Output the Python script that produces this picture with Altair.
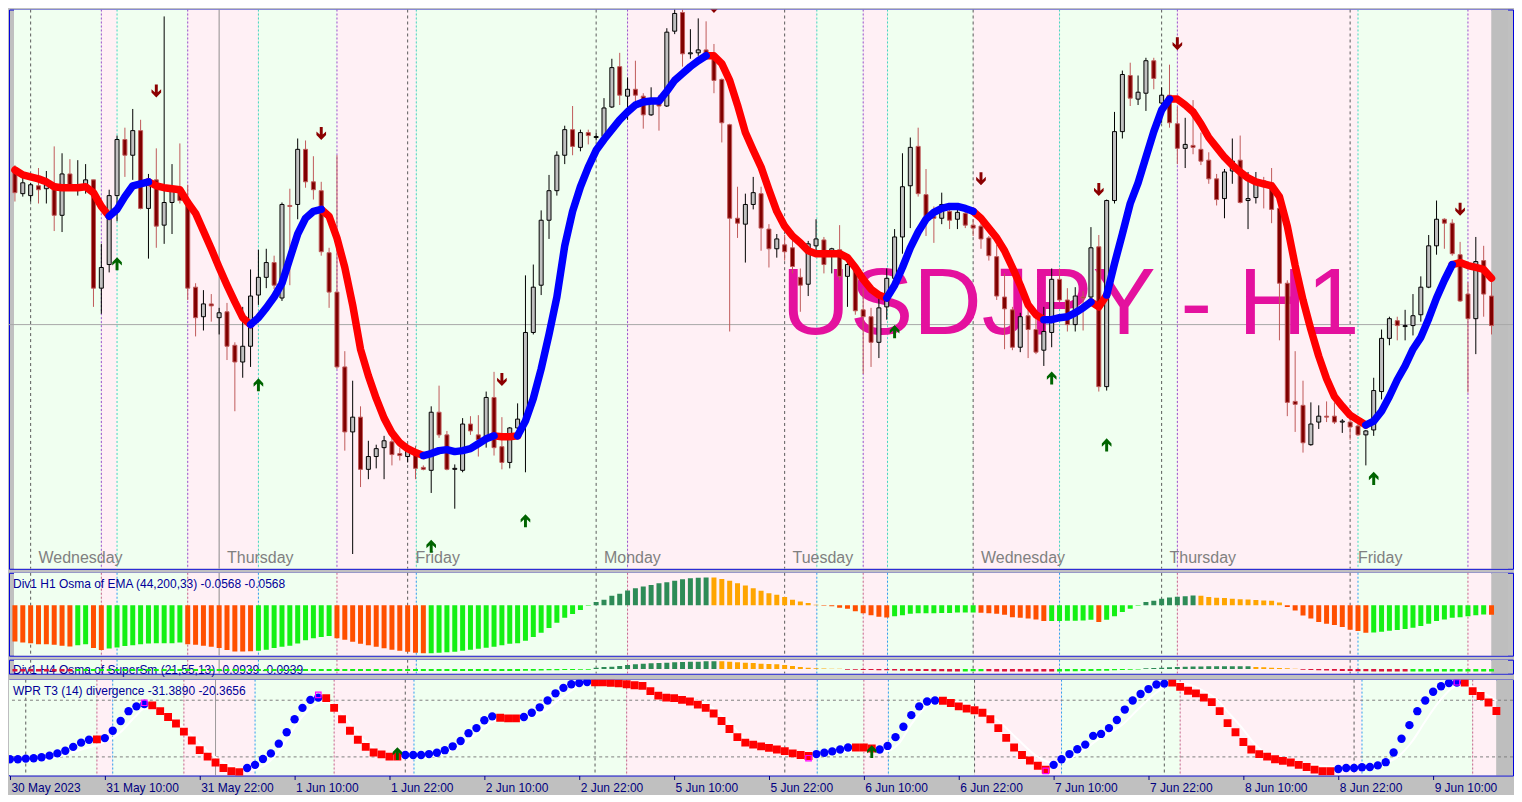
import altair as alt
import pandas as pd

# ---------------- data ----------------
open_ = [140.185, 140.065, 140.055, 140.105, 140.090, 140.115, 139.955, 140.165, 140.100, 140.110,
         140.135, 139.585, 139.705, 140.055, 140.340, 140.260, 140.385, 139.990, 140.135, 139.905,
         140.020, 140.085, 140.035, 139.590, 139.440, 139.505, 139.435, 139.465, 139.295, 139.210,
         139.290, 139.550, 139.640, 139.715, 139.535, 140.005, 140.010, 140.290, 140.125, 140.080,
         139.765, 139.565, 139.185, 138.855, 138.930, 138.665, 138.730, 138.775, 138.805, 138.745,
         138.730, 138.740, 138.675, 138.660, 138.955, 138.840, 138.665, 138.660, 138.895, 138.840,
         138.815, 139.030, 138.780, 138.700, 138.875, 138.925, 139.360, 139.600, 139.930, 140.080,
         140.260, 140.390, 140.300, 140.375, 140.350, 140.355, 140.505, 140.710, 140.560, 140.595,
         140.560, 140.465, 140.535, 140.510, 140.890, 140.985, 140.775, 140.780, 140.795, 140.765,
         140.645, 140.415, 139.940, 139.910, 140.010, 140.065, 139.885, 139.785, 139.805, 139.790,
         139.640, 139.605, 139.800, 139.830, 139.765, 139.780, 139.645, 139.685, 139.475, 139.440,
         139.310, 139.490, 139.635, 139.845, 140.105, 140.305, 140.060, 139.950, 139.940, 139.975,
         139.935, 139.965, 139.905, 139.900, 139.840, 139.745, 139.540, 139.475, 139.285, 139.445,
         139.375, 139.270, 139.360, 139.630, 139.525, 139.400, 139.540, 139.540, 139.795, 139.085,
         140.030, 140.380, 140.665, 140.545, 140.575, 140.740, 140.525, 140.565, 140.420, 140.295,
         140.310, 140.290, 140.235, 140.140, 140.040, 140.180, 140.235, 140.030, 140.045, 140.130,
         140.120, 139.990, 139.610, 139.010, 138.990, 138.790, 138.905, 138.935, 138.935, 138.905,
         138.905, 138.885, 138.840, 138.865, 139.060, 139.330, 139.420, 139.390, 139.395, 139.450,
         139.590, 139.800, 139.935, 139.915, 139.755, 139.555, 139.430, 139.725, 139.545]
high = [140.210, 140.180, 140.120, 140.195, 140.180, 140.305, 140.270, 140.240, 140.235, 140.215,
        140.135, 139.810, 140.085, 140.360, 140.400, 140.495, 140.440, 140.165, 140.295, 140.965,
        140.215, 140.320, 140.110, 139.610, 139.575, 139.555, 139.485, 139.510, 139.310, 139.490,
        139.680, 139.780, 139.785, 139.750, 140.020, 140.090, 140.345, 140.335, 140.255, 140.125,
        139.790, 140.260, 139.265, 139.115, 138.985, 138.810, 138.790, 138.835, 138.835, 138.775,
        138.790, 138.785, 138.685, 138.985, 139.090, 138.860, 138.690, 138.925, 138.935, 138.940,
        139.060, 139.160, 138.930, 138.880, 139.000, 139.650, 139.705, 139.980, 140.160, 140.280,
        140.410, 140.510, 140.390, 140.390, 140.375, 140.550, 140.750, 140.780, 140.655, 140.740,
        140.575, 140.605, 140.565, 140.905, 141.000, 141.000, 140.900, 140.955, 140.940, 140.825,
        140.650, 140.420, 140.100, 140.065, 140.150, 140.100, 139.910, 139.860, 139.855, 139.835,
        139.685, 139.825, 139.935, 139.845, 139.790, 139.905, 139.720, 139.710, 139.585, 139.485,
        139.540, 139.685, 139.885, 140.270, 140.350, 140.400, 140.190, 140.000, 140.070, 140.015,
        139.985, 139.975, 139.935, 139.920, 139.850, 139.805, 139.660, 139.490, 139.460, 139.475,
        139.440, 139.490, 139.685, 139.685, 139.585, 139.590, 139.570, 139.895, 139.855, 140.035,
        140.480, 140.690, 140.730, 140.665, 140.755, 140.755, 140.605, 140.720, 140.505, 140.450,
        140.540, 140.375, 140.275, 140.165, 140.190, 140.345, 140.360, 140.175, 140.175, 140.150,
        140.195, 140.000, 139.625, 139.265, 139.115, 139.005, 138.990, 139.010, 139.005, 138.920,
        138.940, 138.895, 138.865, 139.130, 139.375, 139.440, 139.440, 139.475, 139.555, 139.645,
        139.855, 140.030, 139.940, 139.935, 139.820, 139.615, 139.845, 139.800, 139.660]
low = [140.025, 140.050, 140.025, 140.015, 140.015, 139.875, 139.870, 140.085, 140.055, 140.065,
       139.490, 139.455, 139.665, 139.925, 140.150, 140.135, 139.985, 139.735, 139.790, 139.810,
       139.860, 140.015, 139.525, 139.340, 139.370, 139.415, 139.350, 139.220, 138.960, 139.130,
       139.185, 139.500, 139.585, 139.580, 139.520, 139.600, 139.935, 140.095, 140.035, 139.750,
       139.485, 139.175, 138.760, 138.235, 138.575, 138.615, 138.670, 138.615, 138.685, 138.710,
       138.700, 138.615, 138.660, 138.545, 138.825, 138.660, 138.465, 138.650, 138.840, 138.730,
       138.775, 138.735, 138.665, 138.670, 138.865, 138.650, 139.350, 139.550, 139.835, 140.055,
       140.215, 140.260, 140.280, 140.315, 140.335, 140.345, 140.500, 140.515, 140.440, 140.525,
       140.395, 140.460, 140.385, 140.505, 140.875, 140.710, 140.750, 140.765, 140.750, 140.575,
       140.325, 139.365, 139.840, 139.715, 139.985, 139.775, 139.690, 139.740, 139.725, 139.660,
       139.465, 139.545, 139.750, 139.660, 139.660, 139.625, 139.490, 139.450, 139.150, 139.185,
       139.230, 139.425, 139.615, 139.760, 139.890, 140.050, 139.850, 139.815, 139.910, 139.885,
       139.885, 139.890, 139.850, 139.785, 139.725, 139.525, 139.275, 139.270, 139.260, 139.230,
       139.250, 139.190, 139.285, 139.515, 139.365, 139.365, 139.370, 139.525, 139.060, 139.065,
       140.015, 140.345, 140.510, 140.515, 140.485, 140.595, 140.425, 140.400, 140.215, 140.195,
       140.265, 140.210, 140.115, 140.005, 139.940, 140.115, 140.015, 139.885, 140.015, 139.990,
       139.915, 139.320, 138.935, 138.855, 138.750, 138.785, 138.870, 138.905, 138.895, 138.850,
       138.815, 138.835, 138.685, 138.835, 139.020, 139.295, 139.320, 139.320, 139.345, 139.415,
       139.585, 139.755, 139.785, 139.750, 139.515, 139.055, 139.250, 139.440, 139.350]
close = [140.070, 140.120, 140.110, 140.085, 140.110, 139.955, 140.165, 140.105, 140.105, 140.135,
         139.585, 139.690, 140.055, 140.340, 140.260, 140.385, 139.990, 140.125, 139.900, 140.020,
         140.085, 140.030, 139.585, 139.435, 139.505, 139.495, 139.460, 139.290, 139.210, 139.290,
         139.545, 139.640, 139.715, 139.600, 140.010, 140.000, 140.290, 140.125, 140.085, 139.770,
         139.565, 139.185, 138.855, 138.930, 138.665, 138.730, 138.770, 138.810, 138.740, 138.735,
         138.760, 138.670, 138.665, 138.955, 138.840, 138.665, 138.670, 138.895, 138.860, 138.815,
         139.030, 138.775, 138.700, 138.875, 138.920, 139.360, 139.590, 139.930, 140.080, 140.260,
         140.390, 140.305, 140.375, 140.360, 140.355, 140.500, 140.705, 140.565, 140.595, 140.565,
         140.465, 140.525, 140.510, 140.885, 140.980, 140.775, 140.780, 140.795, 140.775, 140.640,
         140.425, 139.940, 139.915, 140.010, 140.070, 139.890, 139.785, 139.835, 139.770, 139.695,
         139.600, 139.810, 139.835, 139.705, 139.785, 139.645, 139.705, 139.470, 139.440, 139.310,
         139.485, 139.635, 139.845, 140.100, 140.300, 140.065, 139.945, 139.940, 140.010, 139.930,
         139.970, 139.905, 139.890, 139.835, 139.750, 139.545, 139.480, 139.285, 139.440, 139.375,
         139.260, 139.365, 139.630, 139.525, 139.400, 139.545, 139.535, 139.790, 139.085, 140.030,
         140.380, 140.670, 140.550, 140.580, 140.740, 140.650, 140.565, 140.425, 140.295, 140.315,
         140.300, 140.230, 140.140, 140.035, 140.175, 140.230, 140.020, 140.040, 140.135, 140.100,
         139.985, 139.610, 139.005, 138.995, 138.800, 138.895, 138.935, 138.930, 138.905, 138.910,
         138.880, 138.840, 138.860, 139.065, 139.330, 139.430, 139.395, 139.395, 139.445, 139.590,
         139.800, 139.935, 139.915, 139.760, 139.520, 139.430, 139.720, 139.555, 139.395]

# smoothed trend line and the bars where its colour flips (first run falling)
smooth = [140.185, 140.160, 140.150, 140.140, 140.125, 140.100, 140.095, 140.095, 140.095, 140.100,
          140.070, 140.000, 139.950, 139.985, 140.050, 140.105, 140.115, 140.125, 140.105, 140.095,
          140.090, 140.085, 140.020, 139.965, 139.875, 139.785, 139.690, 139.600, 139.515, 139.435,
          139.400, 139.435, 139.485, 139.540, 139.610, 139.735, 139.860, 139.940, 139.975, 139.985,
          139.950, 139.840, 139.690, 139.500, 139.275, 139.140, 139.025, 138.925, 138.850, 138.800,
          138.770, 138.750, 138.735, 138.745, 138.760, 138.765, 138.755, 138.760, 138.770, 138.795,
          138.820, 138.835, 138.830, 138.830, 138.835, 138.910, 139.025, 139.175, 139.350, 139.540,
          139.800, 139.975, 140.100, 140.200, 140.285, 140.340, 140.390, 140.440, 140.480, 140.515,
          140.530, 140.535, 140.535, 140.585, 140.640, 140.675, 140.710, 140.740, 140.765, 140.765,
          140.725, 140.640, 140.515, 140.375, 140.285, 140.200, 140.085, 139.975, 139.900, 139.850,
          139.815, 139.775, 139.760, 139.760, 139.760, 139.760, 139.740, 139.690, 139.630, 139.580,
          139.550, 139.535, 139.600, 139.690, 139.790, 139.870, 139.935, 139.970, 139.990, 140.000,
          140.000, 139.990, 139.975, 139.940, 139.890, 139.840, 139.775, 139.690, 139.600, 139.500,
          139.450, 139.425, 139.425, 139.435, 139.440, 139.460, 139.485, 139.515, 139.490, 139.550,
          139.710, 139.860, 140.015, 140.120, 140.250, 140.380, 140.490, 140.545, 140.545, 140.515,
          140.480, 140.420, 140.350, 140.300, 140.250, 140.210, 140.175, 140.145, 140.125, 140.115,
          140.105, 140.050, 139.900, 139.700, 139.525, 139.375, 139.240, 139.125, 139.035, 138.985,
          138.940, 138.915, 138.890, 138.910, 138.960, 139.035, 139.120, 139.190, 139.275, 139.335,
          139.430, 139.535, 139.625, 139.705, 139.715, 139.700, 139.690, 139.680, 139.635]
smooth_turns = [0, 12, 17, 30, 39, 52, 61, 64, 88, 111, 122, 131, 137, 139, 147, 172, 183, 188]

sell_bar = [18, 39, 62, 89, 123, 138, 148, 184]
sell_price = [140.585, 140.370, 139.120, 141.015, 140.140, 140.085, 140.825, 139.985]
buy_bar = [13, 31, 53, 65, 112, 132, 139, 173]
buy_price = [139.710, 139.095, 138.275, 138.405, 139.365, 139.130, 138.790, 138.620]
price_line = 139.40

# Osma of EMA histogram
osma = [-0.220, -0.226, -0.230, -0.236, -0.236, -0.240, -0.246, -0.250,
        -0.242, -0.236,
        -0.260, -0.272,
        -0.262, -0.256, -0.248, -0.242, -0.236, -0.232, -0.230, -0.230, -0.230, -0.226,
        -0.236, -0.240, -0.246, -0.252, -0.260, -0.272, -0.280, -0.280, -0.279,
        -0.276, -0.270, -0.260, -0.252, -0.246, -0.232, -0.212, -0.200, -0.192, -0.186,
        -0.200, -0.210, -0.222, -0.234, -0.243, -0.252, -0.261, -0.270, -0.276, -0.282, -0.288, -0.292,
        -0.291, -0.288, -0.285, -0.282, -0.276, -0.270, -0.264, -0.258, -0.252, -0.243, -0.234, -0.231, -0.216,
        -0.192, -0.166, -0.138, -0.106, -0.076, -0.052, -0.028, -0.003,
        0.020, 0.034, 0.058, 0.070, 0.090, 0.104, 0.114, 0.124, 0.134, 0.140, 0.150, 0.158, 0.164, 0.168, 0.170,
        0.169, 0.160, 0.150, 0.134, 0.120, 0.104, 0.088, 0.074, 0.064, 0.050, 0.034, 0.024, 0.014, 0.004,
        -0.002, -0.006, -0.014, -0.020, -0.036, -0.048, -0.060, -0.070, -0.074,
        -0.066, -0.060, -0.051, -0.048, -0.048, -0.048, -0.046, -0.046, -0.044, -0.044, -0.043,
        -0.045, -0.048, -0.051, -0.057, -0.072, -0.076, -0.080, -0.086, -0.096,
        -0.095, -0.095, -0.094, -0.093, -0.092, -0.088,
        -0.102,
        -0.088, -0.066, -0.040, -0.020, -0.002,
        0.020, 0.028, 0.040, 0.048, 0.052, 0.056, 0.060,
        0.059, 0.050, 0.046, 0.044, 0.040, 0.037, 0.036, 0.032, 0.030, 0.028, 0.018,
        -0.010, -0.032, -0.062, -0.080, -0.102, -0.112, -0.120, -0.132, -0.148, -0.156, -0.166,
        -0.165, -0.160, -0.154, -0.150, -0.144, -0.136, -0.126, -0.112, -0.096, -0.086, -0.076, -0.072, -0.066, -0.060, -0.056,
        -0.057]
osma_runs = [("dn", 8), ("up", 2), ("dn", 2), ("up", 10), ("dn", 9), ("up", 10), ("dn", 12), ("up", 21),
             ("pos_up", 15), ("pos_dn", 14), ("dn", 9), ("up", 11), ("dn", 9), ("up", 6), ("dn", 1), ("up", 5),
             ("pos_up", 7), ("pos_dn", 11), ("dn", 11), ("up", 15), ("dn", 1)]

# H4 Osma of SuperSm
supersm = [-0.094, -0.094, -0.094, -0.094, -0.094, -0.094, -0.094, -0.094,
           -0.070, -0.070, -0.070, -0.070, -0.070, -0.070, -0.070, -0.070, -0.070, -0.070,
           -0.070, -0.070, -0.070, -0.070, -0.070, -0.070, -0.070, -0.070, -0.070, -0.070,
           -0.070, -0.070, -0.070, -0.070, -0.070, -0.070, -0.070, -0.070, -0.070, -0.070,
           -0.070, -0.070, -0.070, -0.070, -0.070, -0.070, -0.070, -0.070, -0.070, -0.070,
           -0.070, -0.070, -0.070, -0.070, -0.070, -0.070, -0.070, -0.070, -0.070, -0.070,
           -0.070, -0.070, -0.070, -0.070, -0.070, -0.070, -0.070,
           -0.065, -0.060, -0.055, -0.050, -0.045, -0.040, -0.035, -0.030, -0.025,
           0.046, 0.070, 0.081, 0.105, 0.140, 0.165, 0.186, 0.200, 0.210, 0.221, 0.235, 0.245, 0.256, 0.256, 0.270, 0.270,
           0.270, 0.256, 0.235, 0.221, 0.210, 0.186, 0.175, 0.165, 0.140, 0.105, 0.070, 0.046, 0.025, 0.018, 0.011, 0.007,
           -0.025, -0.030, -0.035, -0.040, -0.045, -0.050, -0.055, -0.060, -0.065, -0.070, -0.075, -0.080, -0.085, -0.090, -0.094,
           -0.090, -0.085, -0.080,
           -0.085, -0.090, -0.094, -0.094, -0.094, -0.094, -0.094, -0.094, -0.094,
           -0.090, -0.085, -0.080, -0.075, -0.070, -0.065, -0.060, -0.050, -0.040, -0.030, -0.020,
           0.025, 0.035, 0.046, 0.056, 0.065, 0.075, 0.085, 0.090, 0.095, 0.095, 0.095, 0.095, 0.095, 0.095,
           0.070, 0.056, 0.046, 0.035, 0.020, 0.010,
           -0.025, -0.035, -0.045, -0.055, -0.065, -0.070, -0.075, -0.080, -0.085, -0.090, -0.094, -0.094, -0.094, -0.094,
           -0.094, -0.094, -0.094, -0.094, -0.094, -0.094, -0.094, -0.094, -0.094, -0.094, -0.094]
supersm_runs = [("neg_dn", 8), ("neg_up", 66), ("pos_up", 16), ("pos_dn", 16), ("neg_dn", 15), ("neg_up", 3),
                ("neg_dn", 9), ("neg_up", 11), ("pos_up", 14), ("pos_dn", 6), ("neg_dn", 14), ("neg_up", 11)]

# WPR T3 (14)
wpr = [-82.5, -82.5, -81.8, -81.4, -80.4, -78.7, -76.3, -73.5, -69.4, -64.9,
       -61.9, -61.5, -60.1, -52.3, -42.0, -31.6, -26.5, -24.0, -25.5, -31.6,
       -37.8, -44.6, -53.3, -62.6, -72.9, -79.7, -85.9, -91.8, -95.2, -96.2,
       -91.8, -88.4, -82.2, -76.3, -66.0, -53.9, -40.2, -28.1, -19.6, -17.2,
       -17.8, -28.1, -40.2, -52.3, -61.9, -69.4, -75.3, -77.3, -79.7, -79.7,
       -78.0, -78.0, -78.0, -77.0, -75.6, -72.9, -68.8, -63.2, -54.9, -49.5,
       -41.2, -37.1, -38.5, -39.2, -39.2, -37.8, -33.3, -27.5, -20.3, -12.7,
       -6.9, -3.1, -1.8, -0.7, -1.0, -1.0, -1.5, -2.1, -3.1, -4.1,
       -4.8, -10.3, -15.2, -17.2, -17.8, -19.6, -21.3, -24.7, -28.1, -34.0,
       -42.0, -50.5, -59.1, -64.9, -67.0, -68.8, -70.4, -72.2, -73.9, -76.3,
       -78.0, -79.1, -77.0, -75.6, -74.2, -72.2, -70.1, -70.1, -70.1, -71.1,
       -72.2, -68.4, -59.1, -48.1, -35.8, -26.5, -21.3, -20.3, -20.6, -23.0,
       -26.5, -28.9, -30.6, -33.3, -40.2, -49.5, -59.8, -70.1, -78.0, -83.8,
       -89.4, -93.5, -88.4, -82.5, -77.0, -71.9, -67.0, -57.7, -55.7, -49.5,
       -40.9, -29.9, -20.3, -13.4, -8.2, -3.4, -2.4, -1.3, -5.9, -10.0,
       -12.7, -17.2, -22.0, -31.6, -44.3, -53.9, -64.2, -72.2, -77.0, -79.7,
       -82.5, -84.2, -85.9, -88.4, -90.7, -93.5, -95.2, -95.2, -92.8, -91.8,
       -91.8, -91.0, -90.7, -89.0, -85.6, -75.3, -60.8, -46.4, -31.6, -20.3,
       -11.0, -5.2, -1.8, -1.3, -1.3, -10.3, -15.5, -22.4, -31.4]
wpr_runs = [("up", 11), ("dn", 1), ("up", 6), ("dn", 12), ("up", 10), ("dn", 10), ("up", 12), ("dn", 3),
            ("up", 9), ("dn", 28), ("up", 5), ("dn", 3), ("up", 8), ("dn", 14), ("up", 15), ("dn", 21),
            ("up", 16), ("dn", 5)]
# white signal line of the WPR, read at its visible turning points
signal_bar = [-0.1, 4, 8.25, 10.75, 12.4, 14, 15.75, 17, 18.25, 19.9, 21.5, 23.25, 24.9, 26.5, 28.25, 29.9,
              31.5, 33.25, 34.9, 36.5, 38.25, 39.5, 40.75, 42.4, 44, 45.75, 47.4, 49, 51.5, 54, 56.5, 59,
              61.1, 63.25, 64.9, 67.4, 69.9, 72.4, 74, 79, 82, 84, 87.4, 89.5, 91.5, 93.25, 95.75, 99,
              101.5, 104, 108.25, 110.75, 112.4, 114, 115.75, 117.4, 119.9, 122.4, 124.9, 127.4, 129.9,
              132, 133.6, 135.75, 137.4, 140.75, 143.25, 144.9, 146.5, 148.25, 150.75, 152.4, 154,
              155.75, 157.4, 159, 161.5, 164.9, 168.25, 171.5, 174, 175.75, 177.4, 179, 180.75, 182.4,
              184, 185.75, 188]
signal_val = [-84.5, -83.5, -74.2, -68.0, -62.9, -53.6, -38.1, -28.9, -28.9, -35.1, -45.4, -58.8, -73.2,
              -83.5, -90.7, -94.8, -91.8, -81.4, -62.9, -42.3, -26.8, -21.6, -24.7, -38.1, -55.7, -69.1,
              -78.4, -81.4, -81.4, -78.4, -71.1, -55.7, -42.3, -39.2, -38.1, -32.0, -16.5, -3.1, -1.0,
              -4.1, -12.4, -17.5, -21.6, -32.0, -48.5, -62.9, -68.0, -73.2, -78.4, -76.3, -73.2, -74.2,
              -66.0, -45.4, -27.8, -21.6, -21.6, -28.9, -41.2, -60.8, -79.4, -86.6, -83.5, -73.2, -62.9,
              -45.4, -24.7, -12.4, -4.1, -2.1, -9.3, -17.5, -32.0, -48.5, -66.0, -77.3, -84.5, -88.7,
              -90.7, -90.7, -86.6, -78.4, -62.9, -42.3, -21.6, -7.2, -3.1, -9.3, -20.6]
wpr_div_bar = [17, 39, 101, 131, 183]
wpr_div_val = [-22.7, -14.4, -81.4, -94.8, -1.0]
wpr_arrow_bar = [49, 109]
wpr_arrow_val = [-76.3, -74.2]
wpr_levels = [-20, -80]

# sessions / separators (bar units)
band_start = [-0.12, 11, 13, 22, 31, 41, 51.1, 78, 102.1, 108, 111.1, 122, 133, 148, 171, 185, 188]
band_end = [11, 13, 22, 31, 41, 51.1, 78, 102.1, 108, 111.1, 122, 133, 148, 171, 185, 188, 190.1]
band_zone = ["g", "p", "g", "p", "g", "p", "g", "p", "g", "p", "g", "p", "g", "p", "g", "p", "off"]
day_sep = [2, 50, 74, 98, 122, 146, 170]
cursor_bar = [26]
sell_lines = [11, 22, 41, 78, 108, 148, 185]
buy_lines = [13, 31, 51.1, 102.1, 111.1, 133, 171]
day_names = ["Wednesday", "Thursday", "Friday", "Monday", "Tuesday", "Wednesday", "Thursday", "Friday"]
day_name_bar = [3, 27, 51, 75, 99, 123, 147, 171]
tick_bars = list(range(0, 181, 12))
tick_labels = ["30 May 2023", "31 May 10:00", "31 May 22:00", "1 Jun 10:00", "1 Jun 22:00",
               "2 Jun 10:00", "2 Jun 22:00", "5 Jun 10:00", "5 Jun 22:00", "6 Jun 10:00",
               "6 Jun 22:00", "7 Jun 10:00", "7 Jun 22:00", "8 Jun 10:00", "8 Jun 22:00", "9 Jun 10:00"]

# ---------------- build ----------------
N = len(open_)
lens = {k: len(v) for k, v in dict(open_=open_, high=high, low=low, close=close, smooth=smooth,
                                   osma=osma, supersm=supersm, wpr=wpr).items()}
assert len(set(lens.values())) == 1, lens
assert len(signal_bar) == len(signal_val), (len(signal_bar), len(signal_val))


def expand(runs):
    out = []
    for k, n in runs:
        out += [k] * n
    return out


osma_col = expand(osma_runs)
ss_col = expand(supersm_runs)
wpr_col = expand(wpr_runs)
assert len(osma_col) == N and len(ss_col) == N and len(wpr_col) == N, (len(osma_col), len(ss_col), len(wpr_col))

W = 1506
H_MAIN, H_OSMA, H_SS, H_WPR = 560, 83, 14, 96
FONT = "Liberation Sans"
xs = alt.Scale(domain=[-0.12, 190.1], nice=False, zero=False)

x_axis = alt.Axis(values=tick_bars,
                  labelExpr="[" + ",".join("'%s'" % t for t in tick_labels) + "][round(datum.value/12)]",
                  labelAlign="left", labelBaseline="top", labelPadding=3, labelOffset=1,
                  labelFont=FONT, labelFontSize=12, labelColor="#000080",
                  tickColor="#000080", tickSize=4, domain=False, grid=False,
                  labelOverlap=False, labelFlush=False, title=None)


def X(field="i", axis=None):
    return alt.X(f"{field}:Q", scale=xs, axis=axis, title=None)


bands = pd.DataFrame({"i": band_start, "i2": band_end, "zone": band_zone})
ZONE_COL = {"g": "#F0FFF0", "p": "#FFF0F5", "off": "#BEBEBE"}


def background(axis=None, sub=False):
    layers = []
    for z, col in ZONE_COL.items():
        layers.append(alt.Chart(bands[bands.zone == z]).mark_rect(color=col, clip=True).encode(
            x=X("i", axis), x2="i2:Q"))
    specs = [(day_sep, "#5A5A5A", [3, 3]), (cursor_bar, "#808080", [1, 0]),
             (sell_lines, "#C8648C" if sub else "#9A4FD0", [2, 2]),
             (buy_lines, "#2EA0F0" if sub else "#45D8C4", [2, 2])]
    for pos, col, dash in specs:
        layers.append(alt.Chart(pd.DataFrame({"i": pos})).mark_rule(
            color=col, strokeDash=dash, strokeWidth=1, clip=True).encode(x=X("i", axis)))
    return layers


# ---- main price panel ----
ys = alt.Scale(domain=[138.16, 141.0], nice=False, zero=False)
cdf = pd.DataFrame({"i": range(N), "o": open_, "h": high, "l": low, "c": close})
cdf["dir"] = ["up" if c >= o else "dn" for o, c in zip(open_, close)]

main_layers = background()
main_layers.append(alt.Chart(pd.DataFrame({"p": [price_line]})).mark_rule(
    color="#A8A8A8", strokeWidth=1).encode(y=alt.Y("p:Q", scale=ys, axis=None)))
main_layers.append(alt.Chart(pd.DataFrame({"i": day_name_bar, "t": day_names})).mark_text(
    align="left", baseline="bottom", font=FONT, fontSize=16, color="#808080").encode(
    x=X("i"), y=alt.value(H_MAIN - 3), text="t:N"))
main_layers.append(alt.Chart(pd.DataFrame({"i": [97.6], "p": [139.35], "t": ["USDJPY - H1"]})).mark_text(
    align="left", baseline="alphabetic", font=FONT, fontSize=95, color="#E4119E").encode(
    x=X("i"), y=alt.Y("p:Q", scale=ys, axis=None), text="t:N"))
for d, wick, body_fill, body_stroke in [("up", "#000000", "#C0C0C0", "#000000"),
                                        ("dn", "#C05A5A", "#800000", "#C05A5A")]:
    sub_df = cdf[cdf.dir == d]
    main_layers.append(alt.Chart(sub_df).mark_rule(strokeWidth=1, color=wick, clip=True).encode(
        x=X("i"), y=alt.Y("l:Q", scale=ys, axis=None), y2="h:Q"))
    main_layers.append(alt.Chart(sub_df).mark_bar(size=4, strokeWidth=1, fill=body_fill, stroke=body_stroke,
                                                  clip=True).encode(
        x=X("i"), y=alt.Y("o:Q", scale=ys, axis=None), y2="c:Q"))

rows = []
for k in range(len(smooth_turns) - 1):
    a, b = smooth_turns[k], smooth_turns[k + 1]
    trend = "fall" if k % 2 == 0 else "rise"
    for j in range(a, b + 1):
        rows.append({"i": j, "v": smooth[j], "seg": k, "trend": trend})
sdf = pd.DataFrame(rows)
for tr, col in [("fall", "#FF0000"), ("rise", "#0000FF")]:
    main_layers.append(alt.Chart(sdf[sdf.trend == tr]).mark_line(
        strokeWidth=7.5, strokeCap="round", strokeJoin="round", color=col, clip=True).encode(
        x=X("i"), y=alt.Y("v:Q", scale=ys, axis=None), detail="seg:N", order="i:Q"))

DOWN = "M-0.22,-1 L0.22,-1 L0.22,0.15 L0.72,-0.3 L0.72,0.2 L0,0.95 L-0.72,0.2 L-0.72,-0.3 L-0.22,0.15 Z"
UP = "M-0.22,1 L0.22,1 L0.22,-0.15 L0.72,0.3 L0.72,-0.2 L0,-0.95 L-0.72,-0.2 L-0.72,0.3 L-0.22,-0.15 Z"
main_layers.append(alt.Chart(pd.DataFrame({"i": sell_bar, "p": sell_price})).mark_point(
    shape=DOWN, filled=True, size=180, opacity=1, color="#8B0000", clip=True).encode(
    x=X("i"), y=alt.Y("p:Q", scale=ys, axis=None)))
main_layers.append(alt.Chart(pd.DataFrame({"i": buy_bar, "p": buy_price})).mark_point(
    shape=UP, filled=True, size=180, opacity=1, color="#006400", clip=True).encode(
    x=X("i"), y=alt.Y("p:Q", scale=ys, axis=None)))
main = alt.layer(*main_layers).properties(width=W, height=H_MAIN)

# ---- Osma panel ----
HIST_COL = {"dn": "#FF4F00", "up": "#14F014", "pos_up": "#2E8B57", "pos_dn": "#FFA500"}
odf = pd.DataFrame({"i": range(N), "v": osma, "k": osma_col})
oys = alt.Scale(domain=[-0.306, 0.198], nice=False, zero=False)
osma_layers = background(sub=True)
for k, col in HIST_COL.items():
    osma_layers.append(alt.Chart(odf[odf.k == k]).mark_bar(size=5, color=col, clip=True).encode(
        x=X("i"), y=alt.Y("v:Q", scale=oys, axis=None), y2=alt.datum(0)))
osma_layers.append(alt.Chart(pd.DataFrame({"t": ["Div1 H1 Osma of EMA (44,200,33) -0.0568 -0.0568"]})).mark_text(
    align="left", baseline="middle", font=FONT, fontSize=12, color="#000099").encode(
    x=alt.value(4), y=alt.value(11), text="t:N"))
osma_panel = alt.layer(*osma_layers).properties(width=W, height=H_OSMA)

# ---- SuperSm panel ----
SS_COL = {"neg_dn": "#DC143C", "neg_up": "#14F014", "pos_up": "#2E8B57", "pos_dn": "#FFA500"}
sdf2 = pd.DataFrame({"i": range(N), "v": supersm, "k": ss_col})
ssy = alt.Scale(domain=[-0.165, 0.326], nice=False, zero=False)
ss_layers = background(sub=True)
ss_layers.append(alt.Chart(pd.DataFrame({"t": ["Div1 H4 Osma of SuperSm (21,55,13) -0.0939 -0.0939"]})).mark_text(
    align="left", baseline="middle", font=FONT, fontSize=12, color="#000099").encode(
    x=alt.value(4), y=alt.value(10), text="t:N"))
for k, col in SS_COL.items():
    ss_layers.append(alt.Chart(sdf2[sdf2.k == k]).mark_bar(size=5, color=col, clip=True).encode(
        x=X("i"), y=alt.Y("v:Q", scale=ssy, axis=None), y2=alt.datum(0)))
ss_panel = alt.layer(*ss_layers).properties(width=W, height=H_SS)

# ---- WPR panel ----
wys = alt.Scale(domain=[-99.7, 1.8], nice=False, zero=False)
wdf = pd.DataFrame({"i": range(N), "v": wpr, "k": wpr_col})
wpr_layers = background(axis=x_axis, sub=True)
wpr_layers.append(alt.Chart(pd.DataFrame({"v": wpr_levels})).mark_rule(
    color="#808080", strokeDash=[3, 3], strokeWidth=1).encode(y=alt.Y("v:Q", scale=wys, axis=None)))
wpr_layers.append(alt.Chart(pd.DataFrame({"i": signal_bar, "v": signal_val})).mark_line(
    color="#FFFFFF", strokeWidth=2, interpolate="monotone", clip=True).encode(
    x=X("i", x_axis), y=alt.Y("v:Q", scale=wys, axis=None)))
wpr_layers.append(alt.Chart(wdf[wdf.k == "up"]).mark_point(
    shape="circle", filled=True, size=70, opacity=1, color="#0000FF", clip=True).encode(
    x=X("i", x_axis), y=alt.Y("v:Q", scale=wys, axis=None)))
wpr_layers.append(alt.Chart(wdf[wdf.k == "dn"]).mark_point(
    shape="square", filled=True, size=62, opacity=1, color="#FF0000", clip=True).encode(
    x=X("i", x_axis), y=alt.Y("v:Q", scale=wys, axis=None)))
wpr_layers.append(alt.Chart(pd.DataFrame({"i": wpr_div_bar, "v": wpr_div_val})).mark_point(
    shape="square", filled=False, size=30, opacity=1, color="#FF00FF", strokeWidth=1.2, clip=True).encode(
    x=X("i", x_axis), y=alt.Y("v:Q", scale=wys, axis=None)))
wpr_layers.append(alt.Chart(pd.DataFrame({"i": wpr_arrow_bar, "v": wpr_arrow_val})).mark_point(
    shape=UP, filled=True, size=170, opacity=1, color="#006400", clip=True).encode(
    x=X("i", x_axis), y=alt.Y("v:Q", scale=wys, axis=None)))
wpr_layers.append(alt.Chart(pd.DataFrame({"t": ["WPR T3 (14) divergence -31.3890 -20.3656"]})).mark_text(
    align="left", baseline="middle", font=FONT, fontSize=12, color="#000099").encode(
    x=alt.value(4), y=alt.value(11), text="t:N"))
wpr_panel = alt.layer(*wpr_layers).properties(width=W, height=H_WPR)

chart = alt.vconcat(main, osma_panel, ss_panel, wpr_panel, spacing=2).properties(
    padding={"left": 0, "right": 0, "top": 0, "bottom": 0}
).configure(background="#C0C0C0").configure_view(stroke="#0000DD", strokeWidth=1)

chart.save("out.html", embed_options={"renderer": "svg", "actions": False})
